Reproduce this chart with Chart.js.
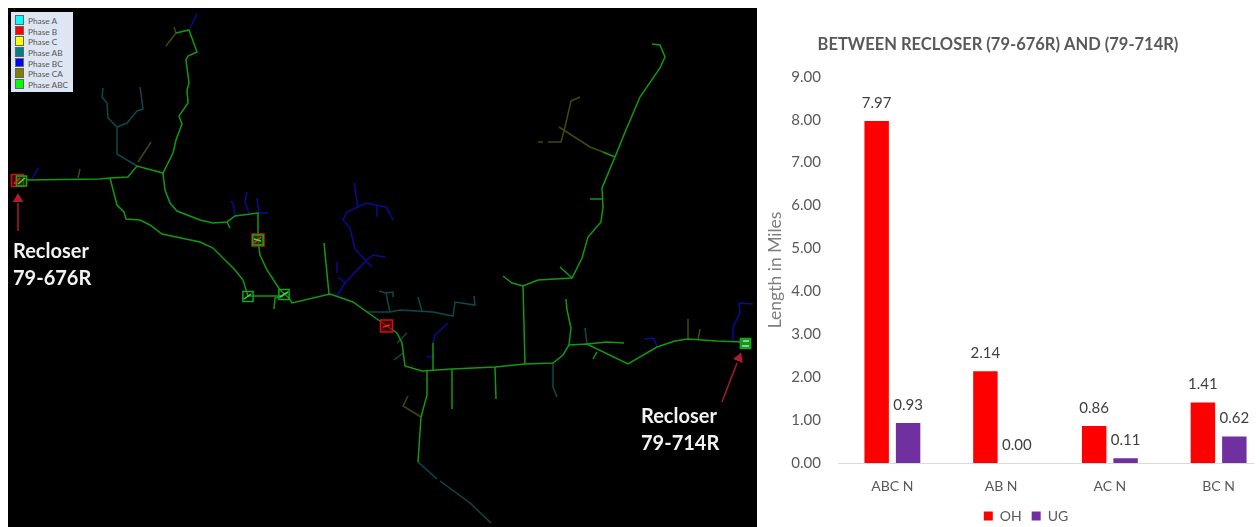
<!DOCTYPE html>
<html>
<head>
<meta charset="utf-8">
<title>Between Recloser (79-676R) and (79-714R)</title>
<script src="https://cdn.jsdelivr.net/npm/chart.js@4/dist/chart.umd.min.js"></script>
<style>
    html, body { margin: 0; padding: 0; background: #fff; overflow: hidden; }
    body { position: relative; width: 1260px; height: 527px; overflow: hidden; font-family: Lato, sans-serif; }
    canvas { position: absolute; display: block; }
    #mapChart { left: 8px; top: 8px; background: #000; }
    #barChart { left: 723px; top: 0; }
    .recloser { position: absolute; color: #f2f2f2; font-weight: 700; font-size: 20px; line-height: 27px; }
    #phaseKey { position: absolute; left: 11px; top: 12px; width: 62px; height: 80px; background: #dde6f2; box-sizing: border-box; padding: 3px 0 0 4px; }
    #phaseKey div { height: 10.7px; font-size: 8.3px; line-height: 10.7px; color: #555; white-space: nowrap; }
    #phaseKey i { display: inline-block; width: 7px; height: 7.5px; border: 1px solid #666; margin-right: 4px; vertical-align: -1px; }
</style>
</head>
<body>
<canvas id="mapChart" width="749" height="519"></canvas>
<canvas id="barChart" width="550" height="536"></canvas>
<div id="phaseKey"></div>
<div class="recloser" style="left:13px;top:237px">Recloser<br>79-676R</div>
<div class="recloser" style="left:641px;top:402px">Recloser<br>79-714R</div>
<script>
// Bar chart data
const categories = ['ABC N', 'AB N', 'AC N', 'BC N'];
const ohValues = [7.97, 2.14, 0.86, 1.41];
const ugValues = [0.93, 0.00, 0.11, 0.62];

// Phase key
const phaseNames = ['Phase A', 'Phase B', 'Phase C', 'Phase AB', 'Phase BC', 'Phase CA', 'Phase ABC'];
const phaseColors = ['#00ffff', '#ff0000', '#ffff00', '#008080', '#0000ff', '#808000', '#00ff00'];

// Feeder lines, as [x, y] in picture pixels
const abcLines = [
    [[26,180],[100,179],[110,178],[128,177],[137,166],[163,173],[173,153],[176,140],[182,124],[179,116],[188,103],[187,90],[189,83],[186,60],[188,56],[197,52],[189,30],[176,33]],
    [[110,178],[117,205],[124,212],[126,219],[140,220],[150,225],[162,234],[200,242],[213,248],[235,270],[243,280],[248,296],[283,296]],
    [[163,173],[165,190],[170,203],[177,211],[200,220],[213,223],[227,222],[235,216],[258,213],[258,240],[260,255],[267,270],[280,290],[289,298],[292,303],[330,294],[353,302],[367,312],[387,326],[397,333],[402,343],[405,366],[422,371],[452,369],[495,367],[525,364],[553,363],[563,355],[569,345],[587,344],[628,364],[657,347],[675,341],[688,339],[717,341],[742,342]],
    [[227,222],[230,228]],
    [[283,296],[275,298],[274,309]],
    [[324,243],[329,294]],
    [[503,276],[512,283],[523,286],[538,280],[572,278],[582,258],[588,237],[601,222],[603,207],[602,188],[615,157],[623,137],[640,97],[660,68],[665,57],[660,45],[652,44]],
    [[560,267],[572,278]],
    [[590,199],[602,199]],
    [[523,286],[525,364]],
    [[615,157],[603,152]],
    [[427,371],[427,395],[421,417],[418,462]],
    [[452,369],[452,409]],
    [[495,367],[496,399]],
    [[433,370],[433,343]],
    [[569,345],[571,328],[567,310],[566,299]],
    [[587,344],[607,342],[624,343]],
    [[597,352],[593,359]]
];
const abLines = [
    [[137,166],[117,154],[117,127],[108,118],[107,103],[102,97],[103,88]],
    [[117,127],[127,123],[137,111],[143,109],[140,87]],
    [[367,312],[390,312],[400,310],[433,312],[453,316],[455,302],[475,305],[474,296]],
    [[390,312],[386,293],[379,291]],
    [[386,293],[393,292],[393,297]],
    [[422,311],[418,297]],
    [[397,343],[407,333]],
    [[394,360],[403,353]],
    [[418,462],[437,479]],
    [[440,481],[470,503],[491,523]],
    [[553,363],[553,387],[557,397]],
    [[587,344],[585,328]]
];
const bcLines = [
    [[32,179],[38,168]],
    [[190,28],[197,14]],
    [[235,215],[233,203],[230,201]],
    [[249,213],[245,202],[247,192]],
    [[259,213],[257,198]],
    [[259,213],[268,213]],
    [[337,296],[345,283],[357,270],[366,261],[355,249],[350,228],[343,220],[347,212],[366,203],[386,207],[393,220]],
    [[358,207],[354,183]],
    [[377,206],[377,217]],
    [[366,261],[373,255],[385,257]],
    [[366,261],[372,267]],
    [[345,283],[338,277]],
    [[337,273],[337,262]],
    [[433,343],[435,335],[448,323]],
    [[427,357],[435,356]],
    [[733,342],[733,327],[740,313],[739,303],[753,304]],
    [[657,347],[654,338],[644,339]]
];
const caLines = [
    [[78,178],[80,169]],
    [[138,162],[151,142]],
    [[176,33],[174,27]],
    [[176,33],[166,46]],
    [[603,152],[590,147],[559,127]],
    [[580,97],[571,101],[565,127],[561,142],[548,142]],
    [[543,142],[538,142]],
    [[421,417],[403,406],[408,396]],
    [[688,339],[688,319]],
    [[698,340],[700,329]]
];

// Recloser boxes and the ticks inside them
const redBoxes = [[17.5,180.5],[258,240],[386.5,326]];
const greenBoxes = [[21.5,181],[258,240],[248,296.5],[284,294.5],[745.5,343.5]];
const redTicks = [[[14,184],[20,178]],[[254,243],[261,237]],[[383,327],[390,325]]];
const greenTicks = [[[18,184],[25,178]],[[244,299],[251,294]],[[280,297],[288,292]],[[254,239],[261,241]]];
const endTicks = [[[742,346],[749,346]],[[743,341],[749,341]]];

// Arrows pointing at the two reclosers
const arrowLines = [[[18,231],[18,203]],[[722,402],[737,363]]];
const arrowHeads = [[18,199],[739,358]];

function pts(line) {
    return line.map(p => ({ x: p[0], y: p[1] }));
}

function lineSets(lines, color, width) {
    return lines.map(line => ({
        data: pts(line),
        showLine: true,
        borderColor: color,
        borderWidth: width,
        pointRadius: 0,
        tension: 0
    }));
}

const mapDatasets = [
    ...lineSets(caLines, '#474709', 1.5),
    ...lineSets(abLines, '#0b4a4b', 1.5),
    ...lineSets(bcLines, '#0a0a96', 1.5),
    ...lineSets(abcLines, '#119a11', 1.5),
    {
        data: pts(redBoxes),
        pointStyle: 'rect',
        pointRadius: 8.5,
        pointBorderColor: '#d01010',
        pointBorderWidth: 1.5,
        pointBackgroundColor: 'rgba(120,0,0,0.6)'
    },
    {
        data: pts(greenBoxes),
        pointStyle: 'rect',
        pointRadius: 7.2,
        pointBorderColor: '#16a816',
        pointBorderWidth: 1.5,
        pointBackgroundColor: ['rgba(0,90,0,0.45)', 'rgba(0,90,0,0.45)', 'rgba(0,0,0,0)', 'rgba(0,0,0,0)', '#0f9a1e']
    },
    ...lineSets(redTicks, '#ff2020', 1.5),
    ...lineSets(greenTicks, '#40e040', 1.5),
    ...lineSets(endTicks, '#b8d8c0', 1.5),
    ...lineSets(arrowLines, '#a81c2a', 1.5),
    {
        data: pts(arrowHeads),
        pointStyle: 'triangle',
        pointRadius: 6,
        pointRotation: [0, 21],
        pointBackgroundColor: '#b01e2c',
        pointBorderWidth: 0
    }
].reverse(); // Chart.js paints the first dataset last

new Chart(document.getElementById('mapChart'), {
    type: 'scatter',
    data: { datasets: mapDatasets },
    options: {
        responsive: false,
        animation: false,
        events: [],
        layout: { autoPadding: false },
        plugins: { legend: { display: false }, tooltip: { enabled: false } },
        scales: {
            x: { type: 'linear', display: false, min: 8, max: 757 },
            y: { type: 'linear', display: false, min: 8, max: 527, reverse: true }
        }
    }
});

// Phase key panel over the map
const phaseKey = document.getElementById('phaseKey');
phaseNames.forEach((name, i) => {
    const row = document.createElement('div');
    const swatch = document.createElement('i');
    swatch.style.background = phaseColors[i];
    row.appendChild(swatch);
    row.appendChild(document.createTextNode(name));
    phaseKey.appendChild(row);
});

// Value labels above each bar
const valueLabels = {
    id: 'valueLabels',
    afterDatasetsDraw(chart) {
        const ctx = chart.ctx;
        ctx.save();
        ctx.font = '15px Lato, sans-serif';
        ctx.fillStyle = '#404040';
        ctx.textAlign = 'center';
        ctx.textBaseline = 'middle';
        chart.data.datasets.forEach((ds, i) => {
            chart.getDatasetMeta(i).data.forEach((bar, j) => {
                ctx.fillText(ds.data[j].toFixed(2), bar.x, bar.y - 18);
            });
        });
        ctx.restore();
    }
};

// The legend sits right of the title centre in the original,
// and the axis line stops short of the picture edge
const barTweaks = {
    id: 'barTweaks',
    afterLayout(chart) {
        chart.legend.left += 28;
        chart.legend.right += 28;
    },
    afterDraw(chart) {
        chart.ctx.clearRect(531, chart.chartArea.bottom - 3, 30, 6);
    }
};

new Chart(document.getElementById('barChart'), {
    type: 'bar',
    data: {
        labels: categories,
        datasets: [
            { label: 'OH', data: ohValues, backgroundColor: '#ff0000' },
            { label: 'UG', data: ugValues, backgroundColor: '#7030a0' }
        ]
    },
    plugins: [valueLabels, barTweaks],
    options: {
        responsive: false,
        animation: false,
        events: [],
        categoryPercentage: 0.578,
        barPercentage: 0.778,
        layout: { autoPadding: false, padding: { left: 0, right: 0, top: 0, bottom: 3 } },
        plugins: {
            tooltip: { enabled: false },
            title: {
                display: true,
                text: 'BETWEEN RECLOSER (79-676R) AND (79-714R)',
                color: '#595959',
                font: { family: 'Lato, sans-serif', size: 16.5, weight: 'bold' },
                padding: { top: 35, bottom: 22 }
            },
            legend: {
                position: 'bottom',
                labels: {
                    boxWidth: 9,
                    boxHeight: 9,
                    padding: 10,
                    color: '#595959',
                    font: { family: 'Lato, sans-serif', size: 14 }
                }
            }
        },
        scales: {
            x: {
                afterFit(scale) { scale.height = 36; },
                grid: { display: false, drawTicks: false },
                border: { color: '#d9d9d9' },
                ticks: { color: '#595959', padding: 15, font: { family: 'Lato, sans-serif', size: 14 } }
            },
            y: {
                min: 0,
                max: 9,
                afterFit(scale) { scale.width = 115; },
                grid: { display: false, drawTicks: false },
                border: { display: false },
                title: {
                    display: true,
                    text: 'Length in Miles',
                    color: '#7f7f7f',
                    font: { family: 'Lato, sans-serif', size: 17.5 },
                    padding: { top: 42, bottom: 0 }
                },
                ticks: {
                    stepSize: 1,
                    color: '#595959',
                    padding: 17,
                    font: { family: 'Lato, sans-serif', size: 15 },
                    callback: value => value.toFixed(2)
                }
            }
        }
    }
});
</script>
</body>
</html>
